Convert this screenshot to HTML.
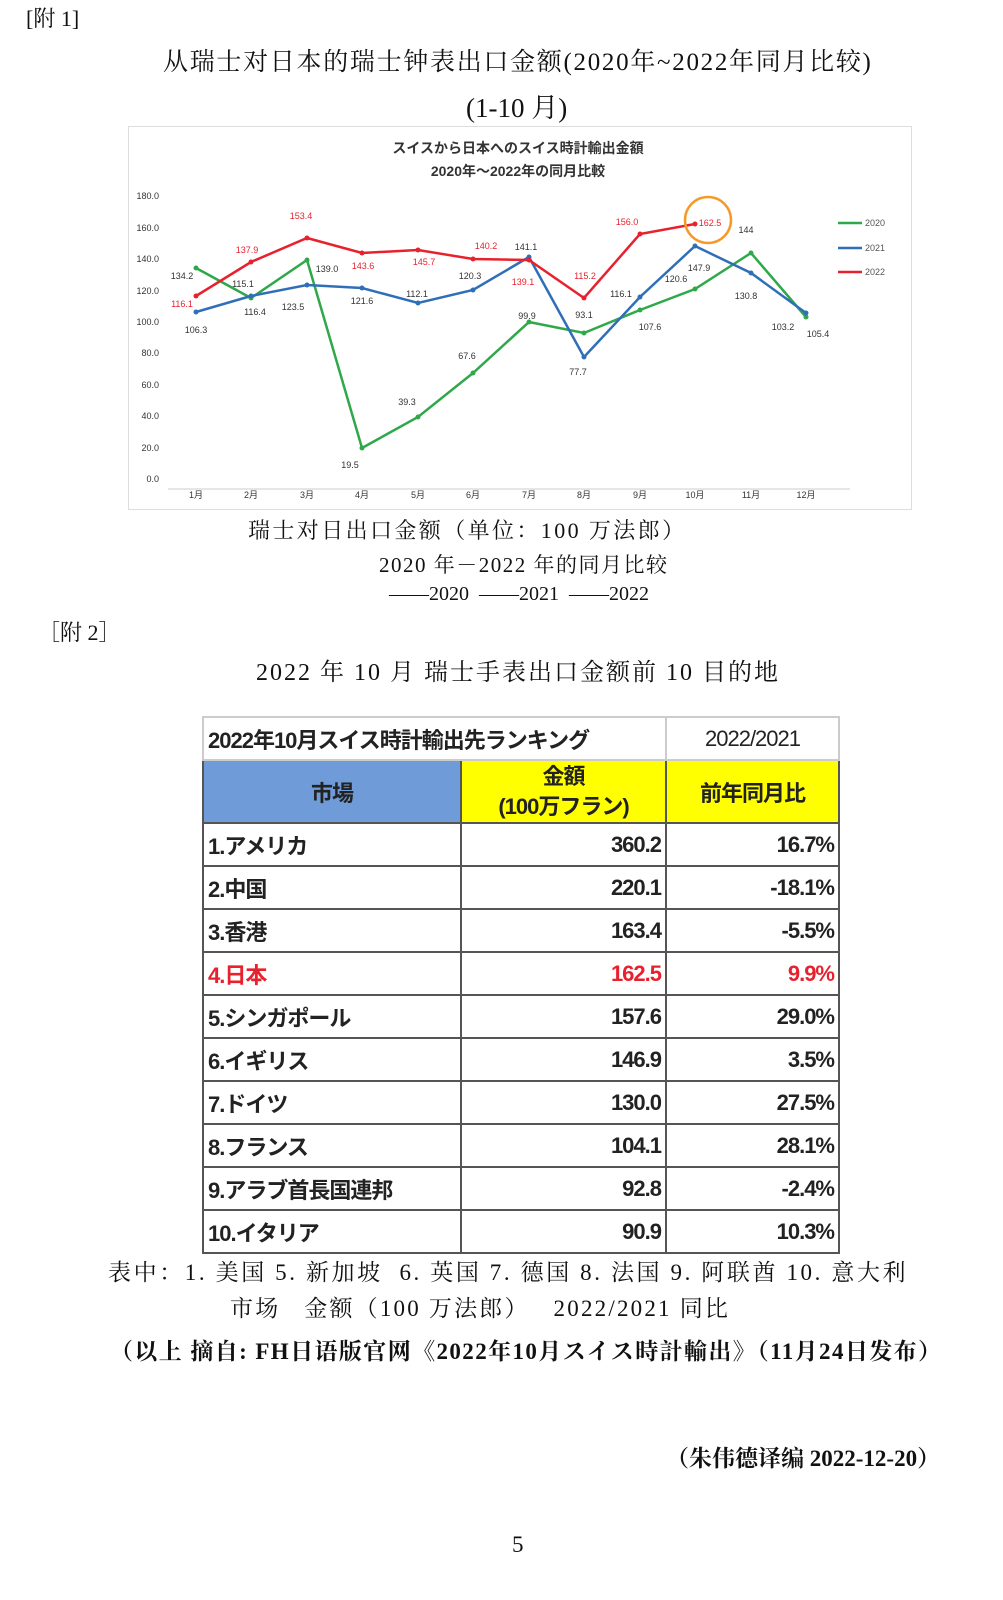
<!DOCTYPE html>
<html><head><meta charset="utf-8"><style>
body{margin:0;background:#fff;width:1003px;height:1600px;position:relative;overflow:hidden;font-family:"Liberation Serif","Noto Serif CJK SC",serif;color:#111}
.t{position:absolute;white-space:nowrap}
table{position:absolute;left:202px;top:716px;border-collapse:collapse;font-family:"Liberation Sans","Noto Sans CJK JP",sans-serif;font-weight:bold;color:#222}
td{border:2px solid #555;padding:0 4px;font-size:22px;letter-spacing:-1px}
</style></head><body>
<div class="t" style="left:26px;top:2px;font-size:22px">[附 1]</div>
<div class="t" style="left:163px;top:42px;font-size:25px;letter-spacing:1.7px">从瑞士对日本的瑞士钟表出口金额(2020年~2022年同月比较)</div>
<div class="t" style="left:466px;top:86px;font-size:27px">(1-10 月)</div>

<svg style="position:absolute;left:128px;top:126px" width="784" height="384" viewBox="128 126 784 384" font-family="Liberation Sans, Noto Sans CJK JP, sans-serif">
<rect x="128.5" y="126.5" width="783" height="383" fill="#fff" stroke="#ddd"/>
<text x="518" y="153" font-size="14" font-weight="bold" text-anchor="middle" fill="#333">スイスから日本へのスイス時計輸出金額</text>
<text x="518" y="176" font-size="14" font-weight="bold" text-anchor="middle" fill="#333">2020年～2022年の同月比較</text>
<g font-size="9" fill="#333" text-anchor="end">
<text x="159" y="199">180.0</text><text x="159" y="231">160.0</text><text x="159" y="262">140.0</text><text x="159" y="294">120.0</text><text x="159" y="325">100.0</text><text x="159" y="356">80.0</text><text x="159" y="388">60.0</text><text x="159" y="419">40.0</text><text x="159" y="451">20.0</text><text x="159" y="482">0.0</text>
</g>
<line x1="168" y1="489" x2="850" y2="489" stroke="#ccc"/>
<g font-size="9" fill="#333" text-anchor="middle">
<text x="196" y="498">1月</text><text x="251" y="498">2月</text><text x="307" y="498">3月</text><text x="362" y="498">4月</text><text x="418" y="498">5月</text><text x="473" y="498">6月</text><text x="529" y="498">7月</text><text x="584" y="498">8月</text><text x="640" y="498">9月</text><text x="695" y="498">10月</text><text x="751" y="498">11月</text><text x="806" y="498">12月</text>
</g>
<polyline fill="none" stroke="#2fa84a" stroke-width="2.5" points="196,268 251,298 307,260 362,448 418,417 473,373 529,322 584,333 640,310 695,289 751,253 806,317"/>
<polyline fill="none" stroke="#2f6fb8" stroke-width="2.5" points="196,312 251,296 307,285 362,288 418,303 473,290 529,257 584,357 640,297 695,246 751,273 806,313"/>
<polyline fill="none" stroke="#e8212e" stroke-width="2.5" points="196,296 251,262 307,238 362,253 418,250 473,259 529,260 584,298 640,234 695,224"/>
<g fill="#2fa84a"><circle cx="196" cy="268" r="2.5"/><circle cx="251" cy="298" r="2.5"/><circle cx="307" cy="260" r="2.5"/><circle cx="362" cy="448" r="2.5"/><circle cx="418" cy="417" r="2.5"/><circle cx="473" cy="373" r="2.5"/><circle cx="529" cy="322" r="2.5"/><circle cx="584" cy="333" r="2.5"/><circle cx="640" cy="310" r="2.5"/><circle cx="695" cy="289" r="2.5"/><circle cx="751" cy="253" r="2.5"/><circle cx="806" cy="317" r="2.5"/></g>
<g fill="#2f6fb8"><circle cx="196" cy="312" r="2.5"/><circle cx="251" cy="296" r="2.5"/><circle cx="307" cy="285" r="2.5"/><circle cx="362" cy="288" r="2.5"/><circle cx="418" cy="303" r="2.5"/><circle cx="473" cy="290" r="2.5"/><circle cx="529" cy="257" r="2.5"/><circle cx="584" cy="357" r="2.5"/><circle cx="640" cy="297" r="2.5"/><circle cx="695" cy="246" r="2.5"/><circle cx="751" cy="273" r="2.5"/><circle cx="806" cy="313" r="2.5"/></g>
<g fill="#e8212e"><circle cx="196" cy="296" r="2.5"/><circle cx="251" cy="262" r="2.5"/><circle cx="307" cy="238" r="2.5"/><circle cx="362" cy="253" r="2.5"/><circle cx="418" cy="250" r="2.5"/><circle cx="473" cy="259" r="2.5"/><circle cx="529" cy="260" r="2.5"/><circle cx="584" cy="298" r="2.5"/><circle cx="640" cy="234" r="2.5"/><circle cx="695" cy="224" r="2.5"/></g>
<circle cx="708" cy="220" r="23" fill="none" stroke="#f39a2a" stroke-width="2.5"/>
<g font-size="9" fill="#333" text-anchor="middle">
<text x="182" y="279">134.2</text><text x="243" y="287">115.1</text><text x="327" y="272">139.0</text><text x="350" y="468">19.5</text><text x="407" y="405">39.3</text><text x="467" y="359">67.6</text><text x="527" y="319">99.9</text><text x="584" y="318">93.1</text><text x="650" y="330">107.6</text><text x="676" y="282">120.6</text><text x="746" y="233">144</text><text x="783" y="330">103.2</text>
<text x="196" y="333">106.3</text><text x="255" y="315">116.4</text><text x="293" y="310">123.5</text><text x="362" y="304">121.6</text><text x="417" y="297">112.1</text><text x="470" y="279">120.3</text><text x="526" y="250">141.1</text><text x="578" y="375">77.7</text><text x="621" y="297">116.1</text><text x="699" y="271">147.9</text><text x="746" y="299">130.8</text><text x="818" y="337">105.4</text>
</g>
<g font-size="9" fill="#e8212e" text-anchor="middle">
<text x="182" y="307">116.1</text><text x="247" y="253">137.9</text><text x="301" y="219">153.4</text><text x="363" y="269">143.6</text><text x="424" y="265">145.7</text><text x="486" y="249">140.2</text><text x="523" y="285">139.1</text><text x="585" y="279">115.2</text><text x="627" y="225">156.0</text><text x="710" y="226">162.5</text>
</g>
<g font-size="9" fill="#555">
<line x1="838" y1="223" x2="862" y2="223" stroke="#2fa84a" stroke-width="2.5"/><text x="865" y="226">2020</text>
<line x1="838" y1="248" x2="862" y2="248" stroke="#2f6fb8" stroke-width="2.5"/><text x="865" y="251">2021</text>
<line x1="838" y1="272" x2="862" y2="272" stroke="#e8212e" stroke-width="2.5"/><text x="865" y="275">2022</text>
</g>
</svg>

<div class="t" style="left:248px;top:514px;font-size:22px;letter-spacing:2.4px">瑞士对日出口金额（单位：100 万法郎）</div>
<div class="t" style="left:379px;top:549px;font-size:21px;letter-spacing:1.5px">2020 年－2022 年的同月比较</div>
<div class="t" style="left:389px;top:583px;font-size:20px">——2020 &nbsp;——2021 &nbsp;——2022</div>
<div class="t" style="left:38px;top:616px;font-size:22px">［附 2］</div>
<div class="t" style="left:256px;top:652px;font-size:24px;letter-spacing:2px">2022 年 10 月 瑞士手表出口金额前 10 目的地</div>

<table>
<tr style="height:43px"><td colspan="2" style="border-color:#ccc;font-size:22px">2022年10月スイス時計輸出先ランキング</td><td style="border-color:#ccc;text-align:center;font-weight:normal;font-size:22px">2022/2021</td></tr>
<tr style="height:63px"><td style="width:248px;background:#6f9bd8;text-align:center">市場</td><td style="width:195px;background:#ffff00;text-align:center;line-height:30px">金額<br>(100万フラン)</td><td style="width:163px;background:#ffff00;text-align:center">前年同月比</td></tr>
<tr style="height:43px"><td>1.アメリカ</td><td style="text-align:right">360.2</td><td style="text-align:right">16.7%</td></tr>
<tr style="height:43px"><td>2.中国</td><td style="text-align:right">220.1</td><td style="text-align:right">-18.1%</td></tr>
<tr style="height:43px"><td>3.香港</td><td style="text-align:right">163.4</td><td style="text-align:right">-5.5%</td></tr>
<tr style="height:43px;color:#e8212e"><td>4.日本</td><td style="text-align:right">162.5</td><td style="text-align:right">9.9%</td></tr>
<tr style="height:43px"><td>5.シンガポール</td><td style="text-align:right">157.6</td><td style="text-align:right">29.0%</td></tr>
<tr style="height:43px"><td>6.イギリス</td><td style="text-align:right">146.9</td><td style="text-align:right">3.5%</td></tr>
<tr style="height:43px"><td>7.ドイツ</td><td style="text-align:right">130.0</td><td style="text-align:right">27.5%</td></tr>
<tr style="height:43px"><td>8.フランス</td><td style="text-align:right">104.1</td><td style="text-align:right">28.1%</td></tr>
<tr style="height:43px"><td>9.アラブ首長国連邦</td><td style="text-align:right">92.8</td><td style="text-align:right">-2.4%</td></tr>
<tr style="height:43px"><td>10.イタリア</td><td style="text-align:right">90.9</td><td style="text-align:right">10.3%</td></tr>
</table>

<div class="t" style="left:108px;top:1254px;font-size:23px;letter-spacing:2.6px">表中：1. 美国 5. 新加坡 &nbsp;6. 英国 7. 德国 8. 法国 9. 阿联酋 10. 意大利</div>
<div class="t" style="left:230px;top:1290px;font-size:23px;letter-spacing:2.2px">市场 &nbsp;&nbsp;金额（100 万法郎） &nbsp;&nbsp;2022/2021 同比</div>
<div class="t" style="left:110px;top:1333px;font-size:23px;font-weight:bold;letter-spacing:1.4px">（以上 摘自: FH日语版官网《2022年10月スイス時計輸出》（11月24日发布）</div>
<div class="t" style="left:666px;top:1440px;font-size:23px;font-weight:bold">（朱伟德译编 2022-12-20）</div>
<div class="t" style="left:512px;top:1532px;font-size:23px">5</div>
</body></html>
